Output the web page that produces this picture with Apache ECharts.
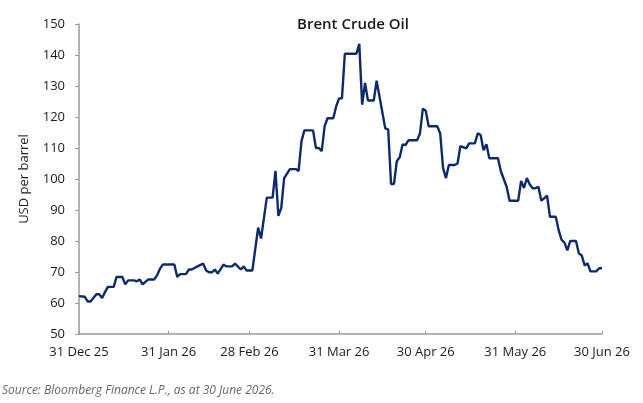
<!DOCTYPE html>
<html>
<head>
<meta charset="utf-8">
<script src="https://cdn.jsdelivr.net/npm/echarts@6/dist/echarts.min.js"></script>
<style>
  html, body { margin: 0; padding: 0; background: #fff; }
  #main { width: 643px; height: 403px; }
</style>
</head>
<body>
<div id="main"></div>
<script>
// Brent price (date, USD per barrel)
var dates = [
  '2025-12-31','2026-01-02','2026-01-03','2026-01-04','2026-01-06','2026-01-07','2026-01-08','2026-01-09',
  '2026-01-10','2026-01-12','2026-01-13','2026-01-15','2026-01-16','2026-01-17','2026-01-19','2026-01-20',
  '2026-01-21','2026-01-22','2026-01-24','2026-01-26','2026-01-27','2026-01-28','2026-01-29','2026-02-02',
  '2026-02-03','2026-02-04','2026-02-06','2026-02-07','2026-02-08','2026-02-10','2026-02-12','2026-02-13',
  '2026-02-14','2026-02-15','2026-02-16','2026-02-17','2026-02-19','2026-02-20','2026-02-22','2026-02-23',
  '2026-02-25','2026-02-26','2026-02-27','2026-03-01','2026-03-03','2026-03-04','2026-03-06','2026-03-08',
  '2026-03-09','2026-03-10','2026-03-11','2026-03-12','2026-03-14','2026-03-16','2026-03-17','2026-03-18',
  '2026-03-19','2026-03-22','2026-03-23','2026-03-24','2026-03-25','2026-03-26','2026-03-27','2026-03-29',
  '2026-03-30','2026-03-31','2026-04-01','2026-04-02','2026-04-06','2026-04-07','2026-04-08','2026-04-09',
  '2026-04-10','2026-04-12','2026-04-13','2026-04-16','2026-04-17','2026-04-18','2026-04-19','2026-04-20',
  '2026-04-21','2026-04-22','2026-04-23','2026-04-24','2026-04-27','2026-04-28','2026-04-29','2026-04-30',
  '2026-05-01','2026-05-04','2026-05-05','2026-05-06','2026-05-07','2026-05-08','2026-05-10','2026-05-11',
  '2026-05-12','2026-05-14','2026-05-15','2026-05-17','2026-05-18','2026-05-19','2026-05-20','2026-05-21',
  '2026-05-22','2026-05-25','2026-05-26','2026-05-28','2026-05-29','2026-06-01','2026-06-02','2026-06-03',
  '2026-06-04','2026-06-05','2026-06-06','2026-06-07','2026-06-08','2026-06-09','2026-06-11','2026-06-12',
  '2026-06-14','2026-06-15','2026-06-16','2026-06-17','2026-06-18','2026-06-19','2026-06-21','2026-06-22',
  '2026-06-23','2026-06-24','2026-06-25','2026-06-26','2026-06-28','2026-06-29','2026-06-30'
];
var prices = [
  62.2, 62.0, 60.5, 60.5, 62.8, 62.8, 61.6, 63.5,
  65.2, 65.2, 68.4, 68.4, 66.0, 67.3, 67.3, 67.0,
  67.6, 66.0, 67.6, 67.6, 68.9, 71.0, 72.4, 72.4,
  68.4, 69.3, 69.3, 70.8, 70.8, 71.8, 72.7, 70.5,
  69.9, 69.9, 70.8, 69.5, 72.4, 71.8, 71.8, 72.7,
  70.8, 71.8, 70.5, 70.5, 84.3, 80.8, 94.0, 94.0,
  102.6, 88.1, 90.7, 100.3, 103.2, 103.2, 102.6, 112.2,
  115.7, 115.7, 110.0, 110.0, 109.0, 117.0, 119.6, 119.6,
  123.4, 126.0, 126.0, 140.4, 140.4, 143.6, 124.0, 131.0,
  125.3, 125.3, 131.7, 116.3, 116.0, 98.4, 98.4, 105.8,
  107.0, 111.2, 110.9, 112.5, 112.5, 114.7, 122.7, 122.0,
  117.0, 117.0, 114.7, 103.5, 100.3, 104.5, 104.5, 105.0,
  110.6, 109.9, 111.5, 111.5, 114.7, 114.2, 109.3, 111.2,
  106.7, 106.7, 102.5, 97.5, 93.0, 93.0, 99.4, 97.1,
  100.3, 98.2, 97.0, 97.0, 97.5, 93.0, 94.6, 87.8,
  87.8, 83.5, 80.4, 79.5, 77.0, 80.0, 80.0, 76.0,
  75.3, 72.1, 72.8, 70.2, 70.2, 71.2, 71.2
];
var tickDates = ['2025-12-31','2026-01-31','2026-02-28','2026-03-31','2026-04-30','2026-05-31','2026-06-30'];
var tickLabels = ['31 Dec 25','31 Jan 26','28 Feb 26','31 Mar 26','30 Apr 26','31 May 26','30 Jun 26'];

function toTime(s) {
  var p = s.split('-');
  return new Date(+p[0], +p[1] - 1, +p[2]).getTime();
}
var tickTimes = tickDates.map(toTime);
var seriesData = dates.map(function (d, i) { return [toTime(d), prices[i]]; });

var font = '"Open Sans", "Noto Sans", sans-serif';
var chart = echarts.init(document.getElementById('main'));
var option = {
  animation: false,
  textStyle: { fontFamily: font },
  grid: { left: 79, right: 41, top: 24, bottom: 69, containLabel: false },
  graphic: [
    {
      type: 'text', x: 353, y: 25,
      style: { text: 'Brent Crude Oil', fontSize: 15, fontWeight: 600, fontFamily: font,
               fill: '#1a1a1a', textAlign: 'center', textVerticalAlign: 'middle' }
    },
    {
      type: 'text', x: 2, y: 391,
      style: { text: 'Source: Bloomberg Finance L.P., as at 30 June 2026.', fontSize: 12,
               fontStyle: 'italic', fontFamily: font, fill: '#666', textVerticalAlign: 'middle' }
    }
  ],
  xAxis: {
    type: 'value',   // dates as timestamps, ticks at month ends
    min: tickTimes[0],
    max: tickTimes[tickTimes.length - 1],
    axisLine: { lineStyle: { color: '#9a9a9a', width: 1.5 } },
    axisTick: { show: true, inside: true, length: 3, customValues: tickTimes,
                lineStyle: { color: '#9a9a9a' } },
    axisLabel: {
      customValues: tickTimes,
      margin: 12, fontSize: 13, color: '#1a1a1a', fontWeight: 500, fontFamily: font,
      formatter: function (v) {
        var i = tickTimes.indexOf(v);
        return i >= 0 ? tickLabels[i] : '';
      }
    },
    splitLine: { show: false }
  },
  yAxis: {
    type: 'value',
    min: 50, max: 150, interval: 10,
    name: 'USD per barrel',
    nameLocation: 'middle',
    nameGap: 48,
    nameTextStyle: { fontSize: 13, color: '#1a1a1a', fontWeight: 500, fontFamily: font },
    axisLine: { show: true, lineStyle: { color: '#9a9a9a', width: 1.5 } },
    axisTick: { show: true, length: 4, lineStyle: { color: '#9a9a9a' } },
    axisLabel: { fontSize: 13, color: '#1a1a1a', fontWeight: 500, margin: 14, fontFamily: font },
    splitLine: { show: false }
  },
  series: [
    {
      name: 'Brent',
      type: 'line',
      data: seriesData,
      showSymbol: false,
      lineStyle: { color: '#0f2a6b', width: 2.4 },
      itemStyle: { color: '#0f2a6b' }
    }
  ]
};
chart.setOption(option);
</script>
</body>
</html>
